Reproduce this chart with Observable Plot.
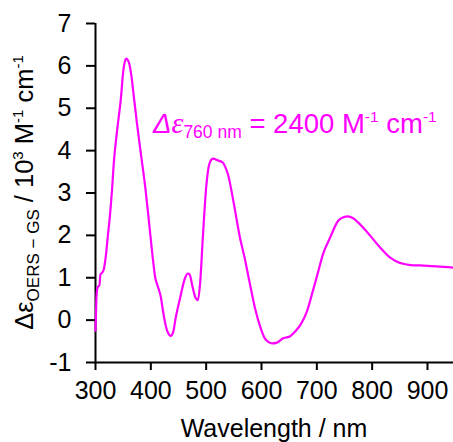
<!DOCTYPE html>
<html>
<head>
<meta charset="utf-8">
<script src="https://cdn.jsdelivr.net/npm/d3@7"></script>
<script src="https://cdn.jsdelivr.net/npm/@observablehq/plot@0.6"></script>
<style>
  html, body { margin: 0; padding: 0; background: #fff; }
  svg { display: block; font-family: "Liberation Sans", Arial, sans-serif; }
</style>
</head>
<body>
<div id="chart"></div>
<script>
// ---- data ----
const wavelength = [300, 301, 302, 304, 307, 309, 312, 315, 319, 322, 326, 330, 333, 339, 346, 350, 353, 356, 359, 361, 365, 368, 375, 382, 390, 397, 404, 408, 411, 415, 418, 421, 424, 431, 436, 440, 445, 453, 462, 467, 470, 476, 481, 485, 489, 494, 500, 505, 509, 512, 521, 530, 535, 539, 550, 561, 569, 579, 588, 597, 606, 613, 619, 628, 639, 647, 652, 657, 664, 670, 682, 692, 702, 711, 724, 739, 748, 756, 765, 775, 786, 796, 814, 832, 845, 856, 870, 887, 917, 947];
const deltaEps  = [-0.25, 0.2, 0.6, 0.78, 0.82, 1.08, 1.12, 1.2, 1.55, 1.95, 2.45, 3.1, 3.7, 4.47, 5.25, 5.85, 6.1, 6.17, 6.12, 6.05, 5.75, 5.42, 4.64, 3.93, 3.13, 2.28, 1.41, 1.0, 0.86, 0.7, 0.55, 0.3, 0.06, -0.3, -0.37, -0.3, 0.06, 0.53, 1.0, 1.1, 1.08, 0.75, 0.52, 0.47, 0.86, 1.95, 3.13, 3.65, 3.78, 3.81, 3.77, 3.72, 3.6, 3.46, 2.75, 1.95, 1.5, 0.86, 0.3, -0.13, -0.43, -0.52, -0.55, -0.53, -0.43, -0.4, -0.38, -0.32, -0.22, -0.12, 0.2, 0.65, 1.12, 1.55, 1.95, 2.35, 2.43, 2.45, 2.41, 2.3, 2.15, 2.0, 1.72, 1.48, 1.38, 1.33, 1.3, 1.29, 1.27, 1.24];
const xTicks = [300, 400, 500, 600, 700, 800, 900];
const yTicks = [-1, 0, 1, 2, 3, 4, 5, 6, 7];
const xDomain = [300, 947];
const yDomain = [-1, 7];
const annWavelength = 405;
const annValue = 4.4;

const data = wavelength.map((w, i) => ({w, v: deltaEps[i]}));
const magenta = "#ff00ff";

const chart = Plot.plot({
  width: 453,
  height: 442,
  marginLeft: 95,
  marginRight: 0,
  marginTop: 23,
  marginBottom: 80,
  style: {fontFamily: "'Liberation Sans', Arial, sans-serif", background: "#fff", color: "#000"},
  x: {domain: xDomain},
  y: {domain: yDomain},
  marks: [
    Plot.axisX({ticks: xTicks, tickSize: 8, tickPadding: 11, fontSize: 25, strokeWidth: 2, label: null, tickFormat: d => String(d)}),
    Plot.axisY({ticks: yTicks, tickSize: 9, tickPadding: 15, fontSize: 25, strokeWidth: 2, label: null, tickFormat: d => String(d)}),
    Plot.ruleX([xDomain[0]], {stroke: "#000", strokeWidth: 2}),
    Plot.ruleY([yDomain[0]], {stroke: "#000", strokeWidth: 2}),
    Plot.line(data, {x: "w", y: "v", stroke: magenta, strokeWidth: 2.2, curve: "monotone-x"})
  ]
});

document.getElementById("chart").appendChild(chart);

const svg = d3.select(chart);
const xs = chart.scale("x"), ys = chart.scale("y");
const font = "'Liberation Sans', Arial, sans-serif";

// x-axis label
svg.append("text")
  .attr("x", (xs.apply(xDomain[0]) + xs.apply(xDomain[1])) / 2)
  .attr("y", 437)
  .attr("text-anchor", "middle")
  .attr("font-family", font)
  .attr("font-size", 25)
  .attr("fill", "#000")
  .text("Wavelength / nm");

// y-axis label (rich text)
const yl = svg.append("text")
  .attr("transform", `translate(33,${(ys.apply(yDomain[0]) + ys.apply(yDomain[1])) / 2}) rotate(-90)`)
  .attr("text-anchor", "middle")
  .attr("font-family", font)
  .attr("font-size", 25.5)
  .attr("fill", "#000");
yl.append("tspan").text("Δε");
yl.append("tspan").attr("font-size", 17).attr("dy", 6).text("OERS − GS");
yl.append("tspan").attr("dy", -6).text(" / 10");
yl.append("tspan").attr("font-size", 15).attr("dy", -10).text("3");
yl.append("tspan").attr("dy", 10).text(" M");
yl.append("tspan").attr("font-size", 15).attr("dy", -10).text("-1");
yl.append("tspan").attr("dy", 10).text(" cm");
yl.append("tspan").attr("font-size", 15).attr("dy", -10).text("-1");

// annotation
const an = svg.append("text")
  .attr("x", xs.apply(annWavelength))
  .attr("y", ys.apply(annValue))
  .attr("text-anchor", "start")
  .attr("font-family", font)
  .attr("font-size", 27.5)
  .attr("fill", magenta);
an.append("tspan").attr("font-style", "italic").text("Δ");
an.append("tspan").attr("font-style", "italic").attr("font-family", "'Liberation Serif', serif").attr("font-size", 30).text("ε");
an.append("tspan").attr("font-size", 17.5).attr("dy", 5).text("760 nm");
an.append("tspan").attr("dy", -5).text(" = 2400 M");
an.append("tspan").attr("font-size", 15.5).attr("dy", -11).text("-1");
an.append("tspan").attr("dy", 11).text(" cm");
an.append("tspan").attr("font-size", 15.5).attr("dy", -11).text("-1");
</script>
</body>
</html>
